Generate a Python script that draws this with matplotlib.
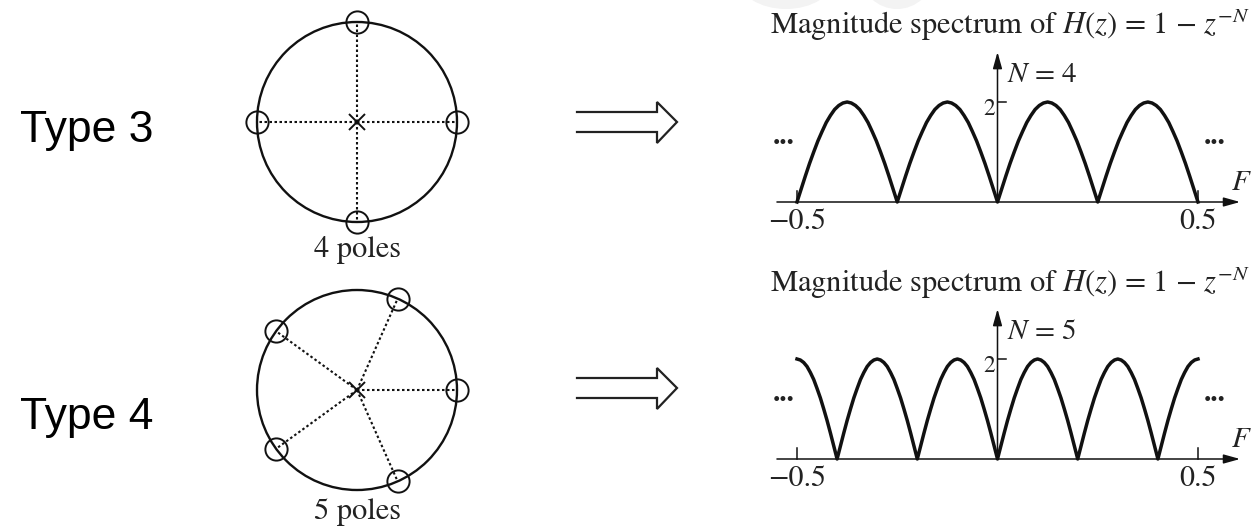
import numpy as np
import matplotlib
matplotlib.use("Agg")
import matplotlib.pyplot as plt
from matplotlib.patches import Circle, Ellipse

plt.rcParams['font.family'] = ['STIXGeneral', 'DejaVu Sans']
plt.rcParams['mathtext.fontset'] = 'stix'

# --- data ---------------------------------------------------------------
type_labels = ['Type 3', 'Type 4']
pole_labels = ['4 poles', '5 poles']
n_values = [4, 5]
# angles (deg) of the markers on the unit circle
zero_angles = [[0, 90, 180, 270],
               [0, 66, 144, 216, 294]]
# |H| sampled across one lobe, zero to zero
lobe_profile = [0, 0.26, 0.52, 0.77, 1.0, 1.22, 1.41, 1.59, 1.73, 1.85, 1.93, 1.98, 2.0,
                1.98, 1.93, 1.85, 1.73, 1.59, 1.41, 1.22, 1.0, 0.77, 0.52, 0.26, 0]
# lobe boundaries in F; for N=5 the outer ones lie past the shown band
lobe_edges = [[-0.5, -0.25, 0, 0.25, 0.5],
              [-0.6, -0.4, -0.2, 0, 0.2, 0.4, 0.6]]
peak_value = 2
f_ticks = [-0.5, 0.5]
f_ticklabels = ['\u22120.5', '0.5']

# --- layout (pixels) ----------------------------------------------------
W, H = 1258, 529
circle_centers = [(357, 122), (357, 390)]
circle_r = 100
pole_label_base = [257, 519]
arrow_y = [122, 388]
label_base = [142, 429]
axis_base = [202, 459]
title_base = [34, 292]
X0, SX, SY = 997.5, 401.0, 50.0
INK = '#111111'
TXT = '#222222'

fig = plt.figure(figsize=(W / 100, H / 100), dpi=100)
bg = fig.add_axes([0, 0, 1, 1])
bg.set_xlim(0, W)
bg.set_ylim(H, 0)
bg.axis('off')


def px_axes(x, y, w, h):
    return fig.add_axes([x / W, 1 - (y + h) / H, w / W, h / H])


def spectrum(edges):
    f, m = [], []
    for a, b in zip(edges[:-1], edges[1:]):
        f.extend(np.linspace(a, b, len(lobe_profile)))
        m.extend(lobe_profile)
    f, m = np.array(f), np.array(m)
    keep = (f >= -0.5 - 1e-9) & (f <= 0.5 + 1e-9)
    return f[keep], m[keep]


# faint marks along the top edge
bg.add_patch(Ellipse((786, -22), 96, 62, color='#f3f3f3', lw=0))
bg.add_patch(Ellipse((897, -26), 72, 70, color='#f3f3f3', lw=0))

for i in range(2):
    # row label
    bg.text(20, label_base[i], type_labels[i], fontfamily=['Liberation Sans'],
            fontsize=32, color='black', va='baseline', ha='left')

    # z-plane sketch
    cx, cy = circle_centers[i]
    span = 1.35
    zax = px_axes(cx - span * circle_r, cy - span * circle_r,
                  2 * span * circle_r, 2 * span * circle_r)
    zax.set_xlim(-span, span)
    zax.set_ylim(-span, span)
    zax.axis('off')
    zax.add_patch(Circle((0, 0), 1, fill=False, lw=1.7, ec=INK))
    ang = np.deg2rad(zero_angles[i])
    for a in ang:
        zax.plot([0, np.cos(a)], [0, np.sin(a)], color=INK, lw=1.5,
                 linestyle=(0, (1.2, 1.2)))
    zax.plot(np.cos(ang), np.sin(ang), 'o', ms=16, mfc='none', mec=INK, mew=1.4)
    zax.plot(0, 0, 'x', ms=12, mec=INK, mew=1.4)
    zax.text(0, -(pole_label_base[i] - cy) / circle_r, pole_labels[i],
             ha='center', va='baseline', fontsize=22, color=TXT)

    # outline double arrow
    y = arrow_y[i]
    bg.plot([577, 657, 657, 677, 657, 657, 577],
            [y - 10, y - 10, y - 20, y, y + 21, y + 10, y + 10],
            color=TXT, lw=1.6, solid_joinstyle='miter')

    # magnitude spectrum
    yb = axis_base[i]
    left, right, top, bottom = 740, W, yb - 185, yb + 45
    sax = px_axes(left, top, right - left, bottom - top)
    sax.set_xlim((left - X0) / SX, (right - X0) / SX)
    sax.set_ylim(-(bottom - yb) / SY, (yb - top) / SY)
    sax.axis('off')

    f, mag = spectrum(lobe_edges[i])
    sax.plot(f, mag, color=INK, lw=2.5, solid_joinstyle='round', zorder=3)

    arrow = dict(arrowstyle='-|>,head_length=0.9,head_width=0.25', lw=1.1,
                 color=INK, mutation_scale=11, shrinkA=0, shrinkB=0)
    sax.annotate('', xy=(0.605, 0), xytext=(-0.55, 0), arrowprops=arrow)
    sax.annotate('', xy=(0, 3.0), xytext=(0, 0), arrowprops=arrow)

    sax.plot([0, 0.02], [peak_value, peak_value], color=INK, lw=1.1)
    sax.text(-0.006, peak_value + 0.06, str(peak_value), ha='right', va='top',
             fontsize=17, color=TXT)
    for t in f_ticks:
        sax.plot([t, t], [0, 0.22], color=INK, lw=1.1)
    for t, s in zip(f_ticks, f_ticklabels):
        sax.text(t, -0.12, s, ha='center', va='top', fontsize=21.5, color=TXT)

    sax.text(0.024, 2.4, r'$N$ = %d' % n_values[i], ha='left',
             va='baseline', fontsize=21, color=TXT)
    sax.text(0.607, 0.38, r'$F$', ha='center', va='center', fontsize=21,
             color=TXT)
    for xd in (-0.533, 0.541):
        sax.text(xd, 1.3, '...', ha='center', va='center', fontsize=21,
                 fontweight='bold', color=TXT)

    sax.text(0.03, (yb - title_base[i]) / SY,
             r'Magnitude spectrum of $\mathit{H(z)}$ = 1 $-$ $z^{-N}$',
             ha='center', va='baseline', fontsize=22, color=TXT)

fig.savefig('out.png', dpi=100)
